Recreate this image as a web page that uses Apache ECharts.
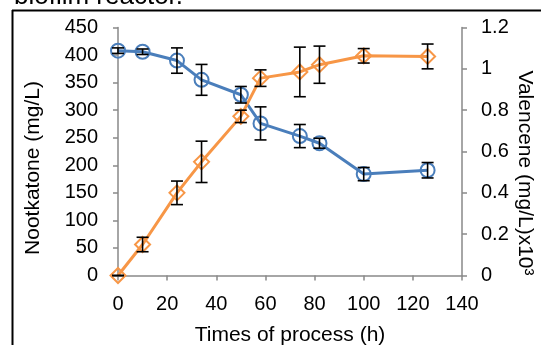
<!DOCTYPE html>
<html>
<head>
<meta charset="utf-8">
<script src="https://cdn.jsdelivr.net/npm/echarts@6/dist/echarts.min.js"></script>
<style>
html,body{margin:0;padding:0;background:#fff;}
#c{width:541px;height:345px;}
</style>
</head>
<body>
<div id="c"></div>
<script>
const times = [0, 10, 24, 34, 50, 58, 74, 82, 100, 126];
const nootkatone = [408, 406, 390, 355, 328, 276, 253, 240, 184, 191];
const nootkatoneErr = [5, 5, 23, 28, 15, 30, 21, 9, 12, 14];
const valencene = [0, 0.15, 0.40, 0.55, 0.77, 0.955, 0.985, 1.02, 1.063, 1.06];
const valenceneErr = [0, 0.035, 0.057, 0.1, 0.03, 0.04, 0.12, 0.09, 0.035, 0.06];
const xTicks = {min: 0, max: 140, interval: 20};
const yLeftTicks = {min: 0, max: 450, interval: 50};
const yRightTicks = {min: 0, max: 1.2, interval: 0.2};

const chart = echarts.init(document.getElementById('c'));
const font = 'Liberation Sans, Arial, sans-serif';
const axisGray = '#898989';

function errItem(){
  return function(params, api){
    const x = api.value(0), lo = api.value(1), hi = api.value(2);
    const p1 = api.coord([x, hi]);
    const p2 = api.coord([x, lo]);
    const w = 6;
    const style = {stroke: '#000', lineWidth: 1.6};
    return {type: 'group', children: [
      {type: 'line', shape: {x1: p1[0], y1: p1[1], x2: p2[0], y2: p2[1]}, style},
      {type: 'line', shape: {x1: p1[0]-w, y1: p1[1], x2: p1[0]+w, y2: p1[1]}, style},
      {type: 'line', shape: {x1: p2[0]-w, y1: p2[1], x2: p2[0]+w, y2: p2[1]}, style}
    ]};
  };
}

const nootErrData = times.map((t,i)=>[t, nootkatone[i]-nootkatoneErr[i], nootkatone[i]+nootkatoneErr[i]]);
const valErrData = times.map((t,i)=>[t, valencene[i]-valenceneErr[i], valencene[i]+valenceneErr[i]]);

const option = {
  animation: false,
  backgroundColor: '#fff',
  grid: {left: 118, right: 79, top: 27.5, bottom: 69.5, containLabel: false},
  xAxis: {
    type: 'value', min: xTicks.min, max: xTicks.max, interval: xTicks.interval,
    axisLine: {show: true, onZero: false, lineStyle: {color: axisGray, width: 1.5}},
    axisTick: {show: true, inside: false, length: 5, lineStyle: {color: axisGray, width: 1.5}},
    axisLabel: {color: '#000', fontSize: 20, fontFamily: font, margin: 19},
    splitLine: {show: false}
  },
  yAxis: [
    {
      type: 'value', position: 'left', min: yLeftTicks.min, max: yLeftTicks.max, interval: yLeftTicks.interval,
      axisLine: {show: true, lineStyle: {color: axisGray, width: 1.5}},
      axisTick: {show: true, inside: false, length: 5, lineStyle: {color: axisGray, width: 1.5}},
      axisLabel: {color: '#000', fontSize: 20, fontFamily: font, margin: 20},
      splitLine: {show: false}
    },
    {
      type: 'value', position: 'right', min: yRightTicks.min, max: yRightTicks.max, interval: yRightTicks.interval,
      axisLine: {show: true, lineStyle: {color: axisGray, width: 1.5}},
      axisTick: {show: true, inside: false, length: 5, lineStyle: {color: axisGray, width: 1.5}},
      axisLabel: {color: '#000', fontSize: 20, fontFamily: font, margin: 19},
      splitLine: {show: false}
    }
  ],
  series: [
    {
      type: 'line', yAxisIndex: 0, data: times.map((t,i)=>[t, nootkatone[i]]),
      symbol: 'circle', symbolSize: 14,
      lineStyle: {color: '#4a7ebb', width: 3},
      itemStyle: {color: 'rgba(255,255,255,0)', borderColor: '#4a7ebb', borderWidth: 2},
      z: 3
    },
    {
      type: 'line', yAxisIndex: 1, data: times.map((t,i)=>[t, valencene[i]]),
      symbol: 'diamond', symbolSize: 15,
      lineStyle: {color: '#f79646', width: 3},
      itemStyle: {color: 'rgba(255,255,255,0)', borderColor: '#f79646', borderWidth: 2},
      z: 3
    },
    {
      type: 'custom', yAxisIndex: 0, data: nootErrData, renderItem: errItem(), z: 5,
      encode: {x: 0, y: [1, 2]}
    },
    {
      type: 'custom', yAxisIndex: 1, data: valErrData, renderItem: errItem(), z: 5,
      encode: {x: 0, y: [1, 2]}
    }
  ],
  graphic: [
    {type: 'text', left: 14, top: -16, style: {text: 'biofilm reactor.', fontSize: 26, fontFamily: font, fill: '#000'}},
    {type: 'line', shape: {x1: 12, y1: 10.5, x2: 541, y2: 10.5}, style: {stroke: '#000', lineWidth: 2}},
    {type: 'line', shape: {x1: 12.5, y1: 10, x2: 12.5, y2: 345}, style: {stroke: '#000', lineWidth: 2}},
    {type: 'text', x: 33, y: 168, rotation: Math.PI/2, style: {text: 'Nootkatone (mg/L)', fontSize: 21, fontFamily: font, fill: '#000', align: 'center', verticalAlign: 'middle'}},
    {type: 'text', x: 525, y: 173, rotation: -Math.PI/2, style: {text: 'Valencene (mg/L)x10³', fontSize: 21, fontFamily: font, fill: '#000', align: 'center', verticalAlign: 'middle'}},
    {type: 'text', x: 290, y: 335, style: {text: 'Times of process (h)', fontSize: 21, fontFamily: font, fill: '#000', align: 'center', verticalAlign: 'middle'}}
  ]
};
chart.setOption(option);
</script>
</body>
</html>
